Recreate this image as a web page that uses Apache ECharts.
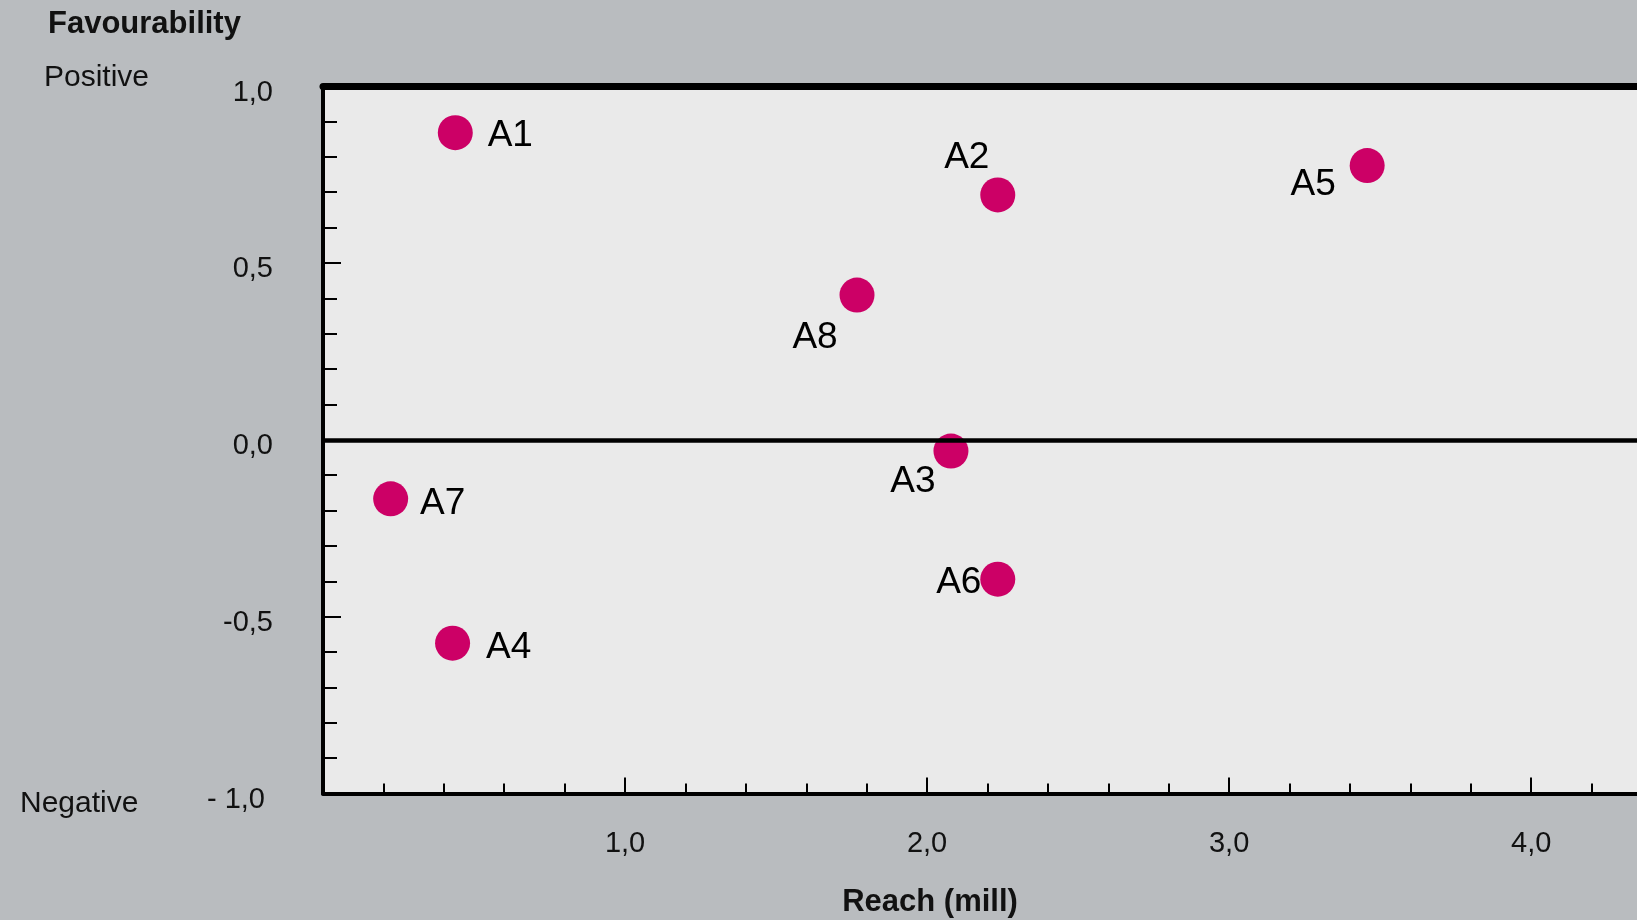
<!DOCTYPE html>
<html>
<head>
<meta charset="utf-8">
<script src="https://cdn.jsdelivr.net/npm/echarts@6/dist/echarts.min.js"></script>
<style>
html,body{margin:0;padding:0;background:#B9BCBF;}
#chart{width:1637px;height:920px;}
</style>
</head>
<body>
<div id="chart"></div>
<script>
// ---- data ----
const categories = ['A1', 'A2', 'A3', 'A4', 'A5', 'A6', 'A7', 'A8'];
const reach = [0.438, 2.234, 2.079, 0.429, 3.457, 2.234, 0.224, 1.768];
const favourability = [0.868, 0.692, -0.032, -0.575, 0.775, -0.394, -0.167, 0.409];
const xTickLabels = ['', '1,0', '2,0', '3,0', '4,0'];          // at 0,1,2,3,4
const yTickLabels = ['- 1,0 ', '-0,5', '0,0', '0,5', '1,0'];     // at -1,-0.5,0,0.5,1
const zeroLine = [0];

// ---- styling (label placement relative to each dot) ----
const labelOffsets = {
  A1: [55, 3], A2: [-31, -37], A3: [-38, 31], A4: [56, 5],
  A5: [-54, 19], A6: [-39, 4], A7: [52, 5], A8: [-42, 43]
};

const FONT = '"Liberation Sans", Arial, Helvetica, sans-serif';
const chart = echarts.init(document.getElementById('chart'), null, {renderer: 'canvas'});

const labelData = categories.map((c, i) => ({
  name: c, value: [reach[i], favourability[i]],
  label: {offset: labelOffsets[c]}
}));
const dotData = categories.map((c, i) => ({name: c, value: [reach[i], favourability[i]]}));

function txt(text, x, y, font, align) {
  return {type: 'text', x: x, y: y, silent: true,
    style: {text: text, fill: '#111', font: font,
      textAlign: align, textVerticalAlign: 'middle', align: align, verticalAlign: 'middle'}};
}

chart.setOption({
  animation: false,
  backgroundColor: '#B9BCBF',
  grid: {
    left: 323, top: 86, right: -15, bottom: 126.5,
    show: true, backgroundColor: '#EAEAEA', borderWidth: 0,
    containLabel: false, outerBoundsMode: 'none'
  },
  xAxis: [{
    type: 'value', min: 0, max: 4.4, interval: 1, position: 'bottom',
    axisLine: {show: true, onZero: false, lineStyle: {color: '#000', width: 4}},
    axisTick: {show: true, inside: true, length: 16, lineStyle: {color: '#000', width: 2}},
    minorTick: {show: true, splitNumber: 5, length: 10, lineStyle: {color: '#000', width: 2}},
    splitLine: {show: false},
    axisLabel: {
      show: true, margin: 36, color: '#111', fontSize: 29, fontFamily: FONT,
      formatter: v => (Math.abs(v - Math.round(v)) < 1e-6 ? (xTickLabels[Math.round(v)] || '') : '')
    }
  }, {
    type: 'value', min: 0, max: 4.4, position: 'top',
    axisLine: {show: true, onZero: false, lineStyle: {color: '#000', width: 7}},
    axisTick: {show: false}, axisLabel: {show: false}, splitLine: {show: false}
  }],
  yAxis: [{
    type: 'value', min: -1, max: 1, interval: 0.5,
    axisLine: {show: true, onZero: false, lineStyle: {color: '#000', width: 4}},
    axisTick: {show: true, inside: true, length: 18, lineStyle: {color: '#000', width: 2}},
    minorTick: {show: true, splitNumber: 5, length: 14, lineStyle: {color: '#000', width: 2}},
    splitLine: {show: false},
    axisLabel: {
      show: true, margin: 50, color: '#111', fontSize: 29, fontFamily: FONT,
      verticalAlign: 'top', lineHeight: 13,
      formatter: v => yTickLabels[Math.round((v + 1) / 0.5)] || ''
    }
  }],
  graphic: [
    txt('Favourability', 48, 24, 'bold 31px ' + FONT, 'left'),
    txt('Positive', 44, 78, '30px ' + FONT, 'left'),
    txt('Negative', 20, 804, '30px ' + FONT, 'left'),
    txt('Reach (mill)', 930, 902, 'bold 31px ' + FONT, 'center')
  ],
  series: [{
    type: 'scatter', name: 'labels', z: 2,
    symbol: 'circle', symbolSize: 35,
    itemStyle: {color: 'rgba(0,0,0,0)'},
    label: {
      show: true, position: 'inside', formatter: '{b}', opacity: 1,
      color: '#000', fontSize: 37, fontFamily: FONT,
      align: 'center', verticalAlign: 'middle'
    },
    emphasis: {disabled: true},
    data: labelData,
    markLine: {
      silent: true, symbol: 'none', label: {show: false},
      lineStyle: {color: '#000', width: 4.5, type: 'solid', opacity: 1},
      data: zeroLine.map(v => ({yAxis: v}))
    }
  }, {
    type: 'scatter', name: 'dots', z: 4,
    symbol: 'circle', symbolSize: 35,
    itemStyle: {color: '#CC0066', opacity: 1},
    label: {show: false},
    emphasis: {disabled: true},
    data: dotData
  }]
});
</script>
</body>
</html>
